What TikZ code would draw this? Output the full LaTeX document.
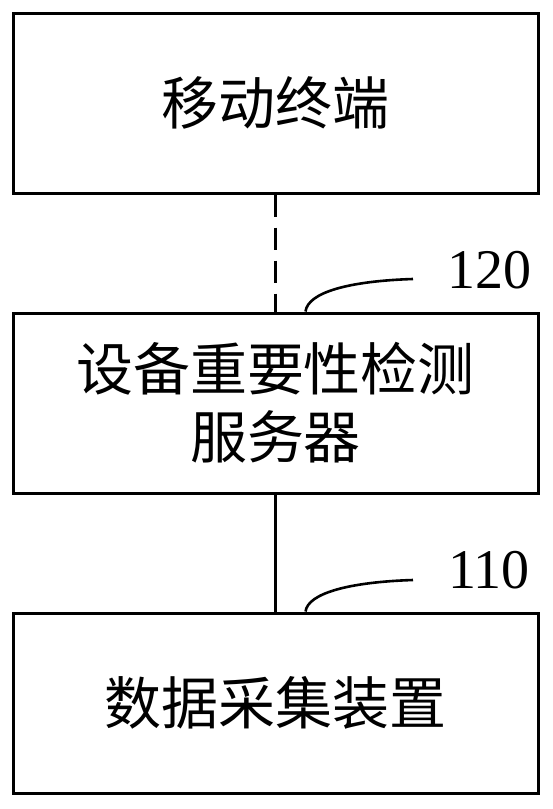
\documentclass[tikz,border=0pt]{standalone}
\usepackage{fontspec}
\newfontfamily\cjk{Noto Sans CJK SC}[Scale=1]
\setmainfont{Liberation Serif}
\begin{document}
\begin{tikzpicture}[x=1pt,y=-1pt,
  blk/.style={draw=black,line width=3pt,minimum width=525pt,minimum height=180pt,inner sep=0pt,align=center,
    font=\cjk\fontsize{57}{68}\selectfont},
  conn/.style={line width=2.6pt},
  lead/.style={line width=2.6pt},
  num/.style={font=\fontsize{56}{56}\selectfont,inner sep=0pt}]
\useasboundingbox (0,0) rectangle (553,809);
\node[blk] (term) at (275.5,103) {移动终端};
\node[blk] (srv) at (275.5,403) {设备重要性检测\\服务器};
\node[blk] (dev) at (275.5,703) {数据采集装置};
\draw[conn,dash pattern=on 22pt off 11pt] (term.south) -- (srv.north);
\draw[conn] (srv.south) -- (dev.north);
\coordinate (l1) at (413,279);
\coordinate (l2) at (413,580);
\draw[lead] ([xshift=30pt]srv.north) .. controls (308,292) and (350,281) .. (l1);
\draw[lead] ([xshift=30pt]dev.north) .. controls (308,593) and (350,582) .. (l2);
\node[num] (n120) at (489,270) {120};
\node[num] (n110) at (489,570) {110};
\end{tikzpicture}
\end{document}
